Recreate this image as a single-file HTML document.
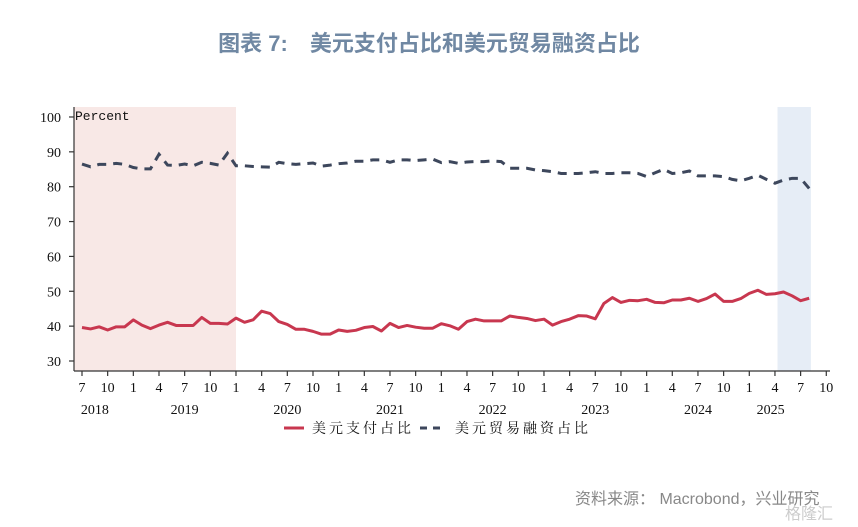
<!DOCTYPE html>
<html><head><meta charset="utf-8">
<style>
body{margin:0;background:#fff;width:858px;height:527px;overflow:hidden;font-family:"Liberation Sans","Noto Sans CJK SC",sans-serif;}
#title{position:absolute;left:0;width:858px;top:26px;text-align:center;font-size:22px;font-weight:bold;color:#7088a3;}
#src{position:absolute;left:575px;top:485px;font-size:16px;color:#888;}
#wm{position:absolute;left:785px;top:500px;font-size:16px;color:#ccc;}
svg{position:absolute;left:0;top:0;}
</style></head><body>
<div id="title">图表 7:　美元支付占比和美元贸易融资占比</div>
<div id="src">资料来源：  Macrobond，兴业研究</div>
<div id="wm">格隆汇</div>
<svg id="chart" width="858" height="527"></svg>
<script>
const payShare=[39.6,39.2,39.8,38.9,39.8,39.8,41.8,40.3,39.3,40.3,41.1,40.2,40.2,40.2,42.5,40.8,40.8,40.6,42.3,41.1,41.8,44.3,43.6,41.3,40.5,39.1,39.1,38.5,37.7,37.7,38.9,38.5,38.8,39.6,39.9,38.6,40.8,39.6,40.2,39.7,39.4,39.4,40.7,40.1,39.1,41.3,42.0,41.5,41.5,41.5,42.9,42.5,42.2,41.6,42.0,40.3,41.3,42.0,43.0,42.9,42.1,46.5,48.2,46.8,47.4,47.3,47.7,46.8,46.7,47.5,47.5,48.0,47.1,47.9,49.2,47.1,47.1,47.9,49.4,50.3,49.1,49.3,49.8,48.7,47.3,48.0];
const tradeShare=[86.5,85.7,86.4,86.4,86.7,86.4,85.5,85.1,85.1,89.3,86.2,86.1,86.5,86.0,87.0,86.7,86.2,89.6,86.0,86.0,85.8,85.7,85.6,87.0,86.6,86.4,86.6,86.8,85.9,86.2,86.6,86.8,87.3,87.3,87.7,87.7,87.0,87.7,87.7,87.5,87.7,87.9,86.9,87.2,86.7,87.1,87.2,87.2,87.4,87.2,85.3,85.3,85.3,84.8,84.6,84.3,83.8,83.8,83.8,84.0,84.3,83.8,83.8,84.0,84.0,83.8,82.9,84.0,85.0,83.8,84.0,84.5,83.1,83.1,83.1,82.9,82.1,81.7,82.4,83.3,82.1,81.0,81.9,82.4,82.4,79.5];
const yTicks=[30,40,50,60,70,80,90,100];
const monthLabels=["7","10","1","4","7","10","1","4","7","10","1","4","7","10","1","4","7","10","1","4","7","10","1","4","7","10","1","4","7","10"];
const yearLabels=["2018","2019","2020","2021","2022","2023","2024","2025"];
const yearMonthIdx=[1.5,12,24,36,48,60,72,80.5];
const shadeRanges=[[-0.9,18,"#f8e8e6"],[81.3,85.2,"#e6edf6"]];
// month index 0 = Jul 2018
const X=i=>82+i*8.555, Y=v=>361-(v-30)*3.486;
const svg=document.getElementById('chart'),NS='http://www.w3.org/2000/svg';
function mk(t,a,p){const e=document.createElementNS(NS,t);for(const k in a)e.setAttribute(k,a[k]);(p||svg).appendChild(e);return e;}
shadeRanges.forEach((r,i)=>{const e=mk('rect',{x:X(r[0]),y:107,width:X(r[1])-X(r[0]),height:264,fill:r[2]});

});
const ax=mk('g',{stroke:'#333','stroke-width':1.2});


mk('line',{x1:74,y1:107,x2:74,y2:371},ax);
mk('line',{x1:74,y1:371,x2:830,y2:371},ax);
yTicks.forEach(v=>{mk('line',{x1:69,y1:Y(v),x2:74,y2:Y(v)},ax);
const t=mk('text',{x:61,y:Y(v)+5,'text-anchor':'end','font-family':'Liberation Serif,serif','font-size':14,fill:'#111'});t.textContent=v;

});
monthLabels.forEach((m,k)=>{const x=X(k*3);mk('line',{x1:x,y1:371,x2:x,y2:376},ax);
const t=mk('text',{x:x,y:392,'text-anchor':'middle','font-family':'Liberation Serif,serif','font-size':14,fill:'#111'});t.textContent=m;

});
yearLabels.forEach((y,k)=>{const t=mk('text',{x:X(yearMonthIdx[k]),y:414,'text-anchor':'middle','font-family':'Liberation Serif,serif','font-size':14,fill:'#111'});t.textContent=y;

});
const pl=mk('text',{x:75,y:120,'font-family':'Liberation Mono,monospace','font-size':13,fill:'#111'});pl.textContent='Percent';


const l1=mk('polyline',{points:payShare.map((v,i)=>X(i)+','+Y(v)).join(' '),fill:'none',stroke:'#c8374f','stroke-width':3,'stroke-linejoin':'round'});


const l2=mk('polyline',{points:tradeShare.map((v,i)=>X(i)+','+Y(v)).join(' '),fill:'none',stroke:'#3d475c','stroke-width':3,'stroke-dasharray':'9,7'});


const lg=mk('g',{});


mk('line',{x1:284,y1:428,x2:304,y2:428,stroke:'#c8374f','stroke-width':3},lg);
let t=mk('text',{x:312,y:433,'font-family':'Liberation Serif,Noto Serif CJK SC,serif','font-size':14,fill:'#111','letter-spacing':'3'},lg);t.textContent='美元支付占比';


mk('line',{x1:420,y1:428,x2:446,y2:428,stroke:'#3d475c','stroke-width':3,'stroke-dasharray':'7,6'},lg);
t=mk('text',{x:455,y:433,'font-family':'Liberation Serif,Noto Serif CJK SC,serif','font-size':14,fill:'#111','letter-spacing':'3'},lg);t.textContent='美元贸易融资占比';


</script>
</body></html>
